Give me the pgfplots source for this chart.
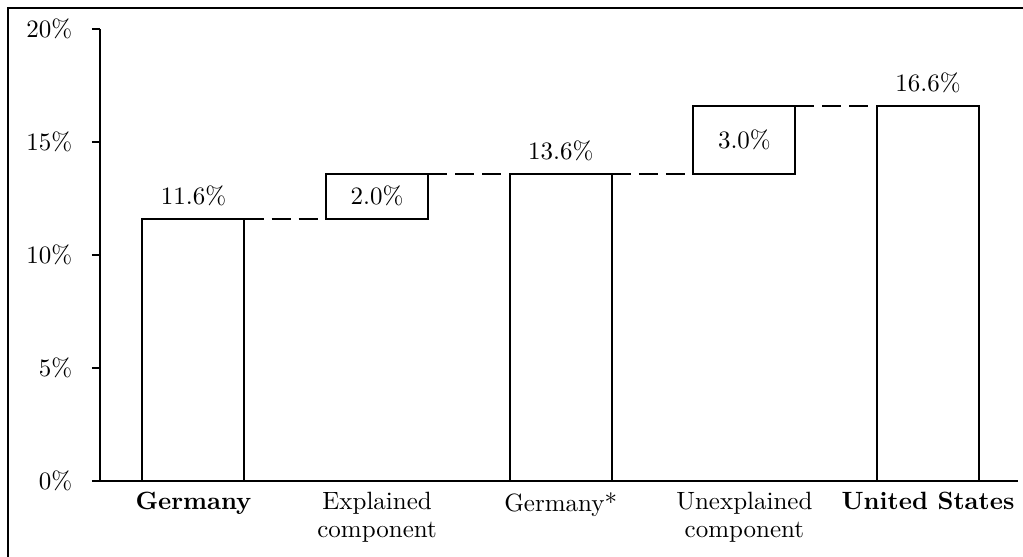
\documentclass[border=0pt]{standalone}
\usepackage{pgfplots}
\pgfplotsset{compat=1.18}
\begin{document}
\begin{tikzpicture}
\useasboundingbox (-40pt,-30pt) rectangle (369.2pt,192.4pt);
\pgfplotsset{
  wf/.style={
    scale only axis, width=367.2pt, height=180.8pt,
    at={(0,0)}, anchor=south west,
    xmin=-0.509, xmax=4.49, ymin=0, ymax=20,
  }
}
% bars: invisible base + visible boxes
\begin{axis}[wf,
  ybar stacked, bar width=40.8pt,
  axis x line*=bottom, axis y line*=left,
  axis line style={-, line width=0.8pt},
  xtick={0,...,4},
  xticklabels={\textbf{Germany},{Explained\\[-0.7pt]component},Germany*,{Unexplained\\[-0.7pt]component},\textbf{United States}},
  x tick style={draw=none},
  ytick={0,5,...,20},
  yticklabel={\pgfmathprintnumber{\tick}\%},
  tick align=outside, major tick length=3.2pt,
  y tick style={line width=0.8pt, black},
  yticklabel style={xshift=-4.4pt},
  xticklabel style={align=center, yshift=2.2pt},
]
\addplot[draw=none, fill=none] coordinates {(0,0) (1,11.6) (2,0) (3,13.6) (4,0)};
\addplot[draw=black, fill=white, line width=0.8pt] coordinates {(0,11.6) (1,2.0) (2,13.6) (3,3.0) (4,16.6)};
\end{axis}
% connectors and labels
\begin{axis}[wf, hide axis, clip=false, unbounded coords=jump]
\addplot[black, line width=0.8pt, dash pattern=on 7.6pt off 3.2pt] coordinates {
  (0.278,11.6) (0.722,11.6) (nan,nan)
  (1.278,13.6) (1.722,13.6) (nan,nan)
  (2.278,13.6) (2.722,13.6) (nan,nan)
  (3.278,16.6) (3.722,16.6)
};
\addplot[only marks, mark=none, point meta=y,
  nodes near coords={\pgfmathprintnumber[fixed,fixed zerofill,precision=1]{\pgfplotspointmeta}\%},
  every node near coord/.append style={anchor=south, yshift=1.7pt, black}]
  coordinates {(0,11.6) (2,13.6) (4,16.6)};
\addplot[only marks, mark=none, point meta=explicit,
  nodes near coords={\pgfmathprintnumber[fixed,fixed zerofill,precision=1]{\pgfplotspointmeta}\%},
  every node near coord/.append style={anchor=center, black}]
  coordinates {(1,12.6) [2.0] (3,15.1) [3.0]};
\end{axis}
\draw[line width=0.8pt] (-36.8pt,-31pt) -- (-36.8pt,189pt) -- (370pt,189pt);
\draw[line width=0.8pt] (-3.2pt,0pt) -- (0pt,0pt);
\end{tikzpicture}
\end{document}
